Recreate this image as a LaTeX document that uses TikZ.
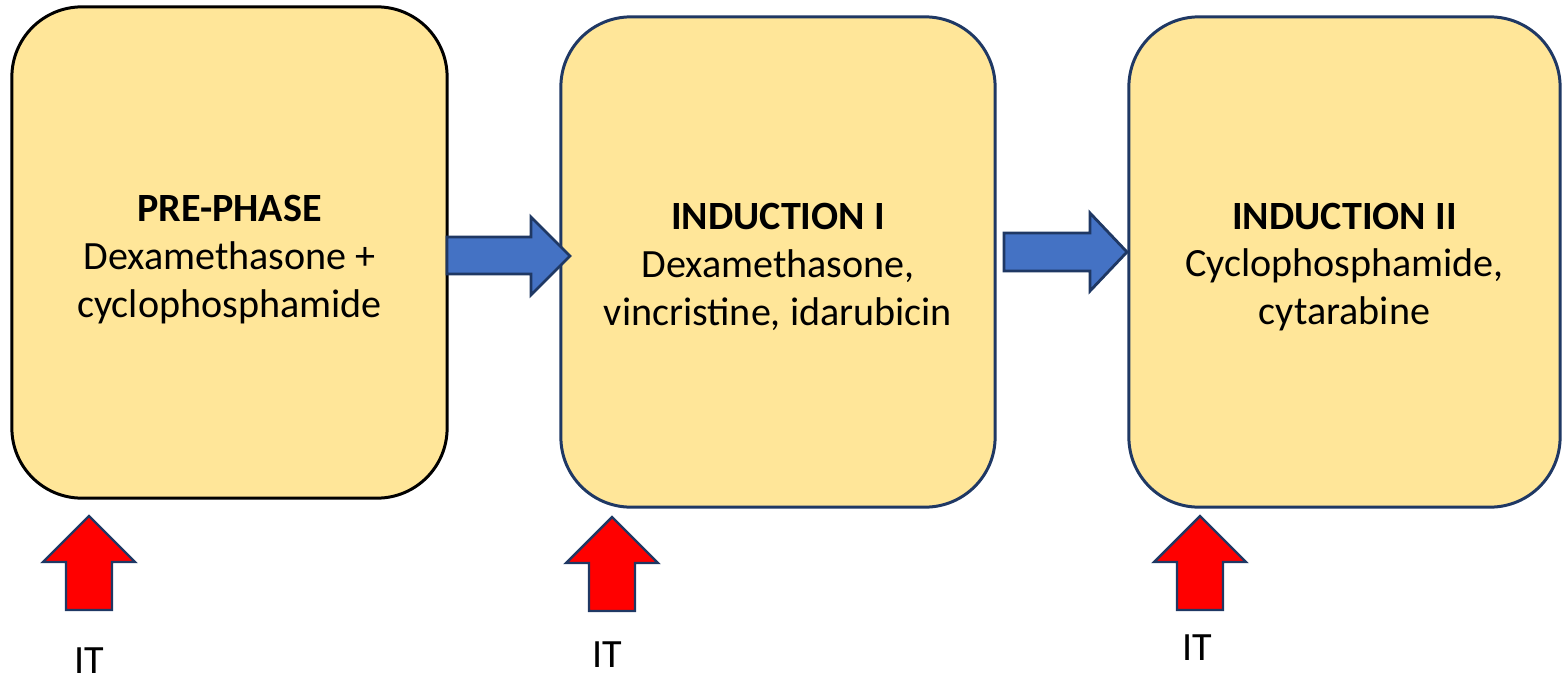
\documentclass[tikz,border=0pt]{standalone}
\usepackage{fontspec}
\setmainfont{Carlito}
\usepackage{tikz}
\usetikzlibrary{positioning}
\definecolor{cyellow}{RGB}{255, 230, 153}
\definecolor{cnavy}{RGB}{31, 56, 100}
\definecolor{cblue}{RGB}{68, 114, 196}
\definecolor{cred}{RGB}{255, 0, 0}

\tikzset{
  phase/.style={draw=cnavy, line width=0.85pt, fill=cyellow, rounded corners=0.7cm,
    inner sep=0pt},
  phasetext/.style={align=center, inner sep=0pt, font=\fontsize{11.4}{13.6}\selectfont},
  bluearrow/.style={draw=cnavy, line width=0.8pt, fill=cblue, line join=miter},
  redarrow/.style={draw=cnavy, line width=0.7pt, fill=cred, line join=miter},
  itlabel/.style={font=\fontsize{11.4}{13.6}\selectfont, inner sep=0pt}
}

\begin{document}
\begin{tikzpicture}[x=0.01cm, y=-0.01cm]
  \useasboundingbox (0,0) rectangle (1562,675);

  % treatment phases
  \node[phase, draw=black, minimum width=4.35cm, minimum height=4.91cm] (pre) at (229.5,252.5) {};
  \node[phase, minimum width=4.34cm, minimum height=4.90cm] (ind1) at (778,262) {};
  \node[phase, minimum width=4.31cm, minimum height=4.90cm] (ind2) at (1344.5,262) {};
  \node[phasetext, below=0.07cm of pre.center, anchor=center] (pretxt)
    {\textbf{PRE-PHASE}\\Dexamethasone +\\cyclophosphamide};
  \node[phasetext, below=0.05cm of ind1.center, anchor=center] (ind1txt)
    {\textbf{INDUCTION I}\\Dexamethasone,\\vincristine, idarubicin};
  \node[phasetext, below=0.05cm of ind2.center, anchor=center] (ind2txt)
    {\textbf{INDUCTION II}\\Cyclophosphamide,\\cytarabine};

  % sequence arrows
  \draw[bluearrow] (447,237) -- (531,237) -- (531,217) -- (570,256)
    -- (531,295) -- (531,274) -- (447,274) -- cycle;
  \draw[bluearrow] (1004,233) -- (1090,233) -- (1090,213) -- (1127,252)
    -- (1090,291) -- (1090,271) -- (1004,271) -- cycle;

  % intrathecal doses
  \foreach \x/\y in {89/516, 612/517, 1200/516}
    \draw[redarrow] (\x,\y) -- (\x+46,\y+46) -- (\x+23,\y+46) -- (\x+23,\y+94)
      -- (\x-23,\y+94) -- (\x-23,\y+46) -- (\x-46,\y+46) -- cycle;
  \node[itlabel] (it1) at (89,661) {IT};
  \node[itlabel] (it2) at (607,655) {IT};
  \node[itlabel] (it3) at (1197,648) {IT};
\end{tikzpicture}
\end{document}
